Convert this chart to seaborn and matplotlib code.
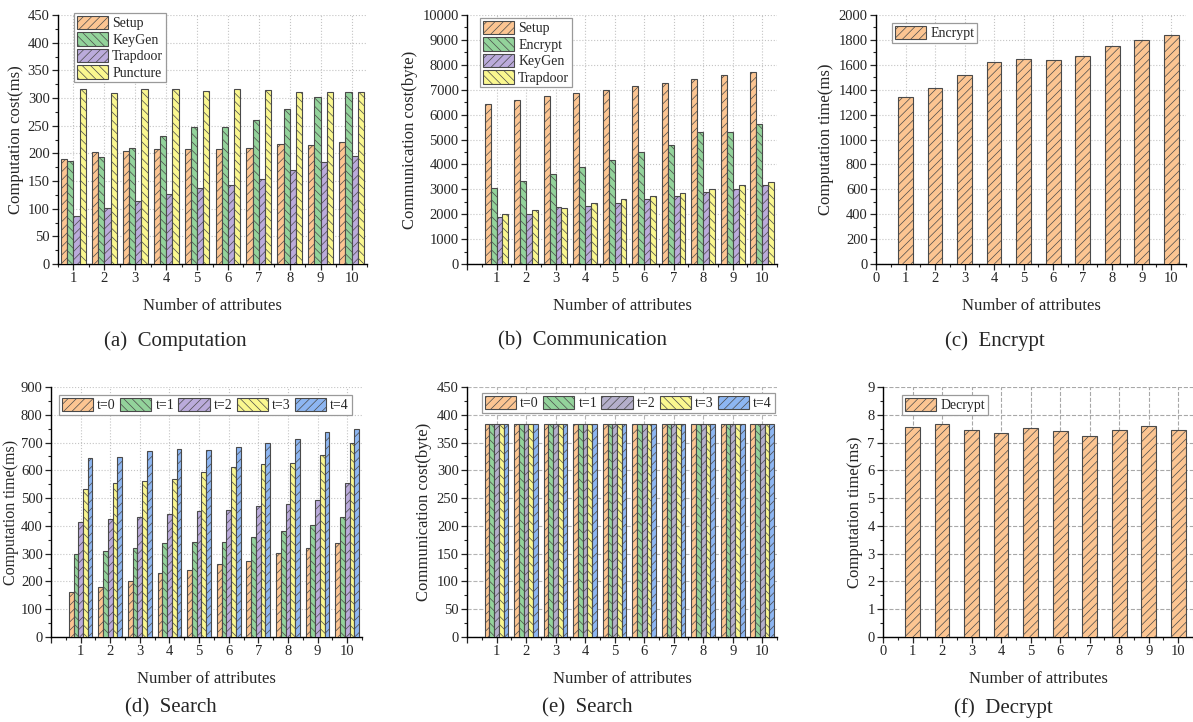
import numpy as np
import pandas as pd
import matplotlib
matplotlib.use("Agg")
import matplotlib.pyplot as plt
import seaborn as sns
from matplotlib.ticker import MultipleLocator, AutoMinorLocator

sns.set_theme(style="ticks")
plt.rcParams['font.family'] = ['Liberation Serif', 'DejaVu Serif']
plt.rcParams['hatch.linewidth'] = 0.5

attrs = list(range(1, 11))

# (a) computation cost
a_setup = [190, 203, 205, 207, 208, 207, 210, 216, 215, 221]
a_keygen = [186, 193, 210, 231, 248, 248, 261, 281, 302, 310]
a_trapdoor = [87, 101, 113, 126, 138, 142, 153, 170, 185, 196]
a_puncture = [317, 309, 316, 317, 313, 316, 314, 310, 310, 311]

# (b) communication cost
b_setup = [6440, 6570, 6730, 6870, 7000, 7150, 7280, 7430, 7580, 7730]
b_encrypt = [3040, 3330, 3600, 3880, 4170, 4480, 4760, 5320, 5320, 5610]
b_keygen = [1890, 2000, 2290, 2310, 2440, 2600, 2730, 2890, 3010, 3160]
b_trapdoor = [2000, 2160, 2250, 2440, 2600, 2730, 2870, 3010, 3160, 3290]

# (c) encrypt
c_encrypt = [1340, 1410, 1517, 1620, 1650, 1640, 1668, 1750, 1800, 1840]

# (d) search time
d_t0 = [162, 180, 203, 230, 241, 263, 274, 304, 320, 338]
d_t1 = [299, 310, 320, 338, 342, 342, 360, 382, 403, 432]
d_t2 = [413, 425, 433, 443, 452, 458, 473, 479, 493, 554]
d_t3 = [533, 556, 562, 569, 595, 612, 622, 628, 656, 698]
d_t4 = [644, 647, 670, 678, 674, 684, 700, 713, 739, 749]

# (e) search communication
e_t0 = [384] * 10
e_t1 = [384] * 10
e_t2 = [384] * 10
e_t3 = [384] * 10
e_t4 = [384] * 10

# (f) decrypt
f_decrypt = [7.56, 7.68, 7.45, 7.34, 7.52, 7.42, 7.22, 7.45, 7.60, 7.45]

ORANGE, GREEN, PURPLE, YELLOW, BLUE = '#FCC592', '#93D39B', '#BBABDB', '#FAF78F', '#8DB6F2'
EDGE = '#4a4a4a'
HATCH_F, HATCH_B = '////', '\\\\\\\\'

W, H = 1193, 722
fig = plt.figure(figsize=(W / 100, H / 100), dpi=100)


def add_ax(l, r, t, b):
    return fig.add_axes([l / W, 1 - b / H, (r - l) / W, (b - t) / H])


def grouped(ax, series, labels, colors, hatches):
    df = pd.DataFrame({
        'n': np.tile(attrs, len(series)),
        'v': np.concatenate(series),
        's': np.repeat(labels, len(attrs)),
    })
    sns.barplot(data=df, x='n', y='v', hue='s', hue_order=labels, palette=colors,
                native_scale=True, width=0.8, saturation=1, errorbar=None,
                edgecolor=EDGE, linewidth=0.8, legend=False, ax=ax, zorder=3)
    for cont, h in zip(ax.containers, hatches):
        for p in cont:
            p.set_hatch(h)


def single(ax, vals, color, hatch):
    sns.barplot(x=attrs, y=vals, native_scale=True, width=0.5, color=color,
                saturation=1, errorbar=None, edgecolor=EDGE, linewidth=0.8,
                ax=ax, zorder=3)
    for p in ax.containers[0]:
        p.set_hatch(hatch)


def style(ax, ylab, ymax, ystep, xmin, show0, grid_ls, grid_c):
    ax.set_ylim(0, ymax)
    ax.yaxis.set_major_locator(MultipleLocator(ystep))
    ax.yaxis.set_minor_locator(AutoMinorLocator(2))
    ax.set_xlim(xmin, 10.5)
    if xmin == 0:
        ax.set_xticks(range(0, 11))
        ax.set_xticklabels(['0' if show0 else ''] + [str(i) for i in attrs])
    else:
        ax.set_xticks(attrs)
        ax.set_xticklabels([str(i) for i in attrs])
    ax.xaxis.set_minor_locator(MultipleLocator(0.5))
    ax.tick_params(which='major', direction='out', length=4, width=0.9, labelsize=10.5, pad=2)
    ax.tick_params(which='minor', direction='out', length=2.5, width=0.8)
    ax.grid(True, which='major', linestyle=grid_ls, color=grid_c, linewidth=0.8, zorder=0)
    ax.set_axisbelow(True)
    sns.despine(ax=ax)
    for s in ('left', 'bottom'):
        ax.spines[s].set_color('black')
        ax.spines[s].set_linewidth(1.0)
    ax.set_ylabel(ylab, fontsize=12, labelpad=3)
    ax.set_xlabel('Number of attributes', fontsize=12, labelpad=9)


def legend(ax, labels, x, y, ncol=1):
    leg = ax.legend(ax.containers, labels, loc='upper left',
                    bbox_to_anchor=(x / W, 1 - y / H), bbox_transform=fig.transFigure,
                    ncol=ncol, fontsize=10, fancybox=False, framealpha=1,
                    edgecolor='#9a9a9a', handlelength=2.25, handleheight=1.1,
                    handletextpad=0.3, labelspacing=0.15, columnspacing=0.3,
                    borderpad=0.2, borderaxespad=0)
    leg.get_frame().set_linewidth(0.9)
    leg.set_zorder(10)


# (a)
ax = add_ax(58, 367, 15, 264)
grouped(ax, [a_setup, a_keygen, a_trapdoor, a_puncture],
        ['Setup', 'KeyGen', 'Trapdoor', 'Puncture'],
        [ORANGE, GREEN, PURPLE, YELLOW], [HATCH_F, HATCH_B, HATCH_F, HATCH_B])
style(ax, 'Computation cost(ms)', 450, 50, 0.5, False, ':', '#c4c4c4')
legend(ax, ['Setup', 'KeyGen', 'Trapdoor', 'Puncture'], 74, 13)

# (b)
ax = add_ax(467, 777, 15, 264)
grouped(ax, [b_setup, b_encrypt, b_keygen, b_trapdoor],
        ['Setup', 'Encrypt', 'KeyGen', 'Trapdoor'],
        [ORANGE, GREEN, PURPLE, YELLOW], [HATCH_F, HATCH_B, HATCH_F, HATCH_B])
style(ax, 'Communication cost(byte)', 10000, 1000, 0, False, ':', '#c4c4c4')
legend(ax, ['Setup', 'Encrypt', 'KeyGen', 'Trapdoor'], 480, 18)

# (c)
ax = add_ax(876, 1186, 15, 264)
single(ax, c_encrypt, ORANGE, HATCH_F)
style(ax, 'Computation time(ms)', 2000, 200, 0, True, ':', '#c4c4c4')
legend(ax, ['Encrypt'], 892, 23)

# (d)
ax = add_ax(51, 362, 387, 637)
grouped(ax, [d_t0, d_t1, d_t2, d_t3, d_t4],
        ['t=0', 't=1', 't=2', 't=3', 't=4'],
        [ORANGE, GREEN, PURPLE, YELLOW, BLUE],
        [HATCH_F, HATCH_B, HATCH_F, HATCH_B, HATCH_F])
style(ax, 'Computation time(ms)', 900, 100, 0, False, ':', '#c4c4c4')
ax.yaxis.label.set_fontsize(11.5)
ax.yaxis.labelpad = 1
legend(ax, ['t=0', 't=1', 't=2', 't=3', 't=4'], 59, 395, ncol=5)

# (e)
ax = add_ax(467, 777, 387, 637)
grouped(ax, [e_t0, e_t1, e_t2, e_t3, e_t4],
        ['t=0', 't=1', 't=2', 't=3', 't=4'],
        [ORANGE, GREEN, '#B4AFCB', YELLOW, BLUE],
        [HATCH_F, HATCH_B, HATCH_F, HATCH_B, HATCH_F])
style(ax, 'Communication cost(byte)', 450, 50, 0, False, '--', '#b4b4b4')
legend(ax, ['t=0', 't=1', 't=2', 't=3', 't=4'], 482, 393, ncol=5)

# (f)
ax = add_ax(883, 1193, 387, 637)
single(ax, f_decrypt, ORANGE, HATCH_F)
style(ax, 'Computation time(ms)', 9, 1, 0, True, '--', '#a8a8a8')
legend(ax, ['Decrypt'], 902, 395)

captions = [('(a)  Computation', 175, 341), ('(b)  Communication', 583, 341),
            ('(c)  Encrypt', 995, 341), ('(d)  Search', 171, 708),
            ('(e)  Search', 587, 708), ('(f)  Decrypt', 1003, 708)]
for txt, x, y in captions:
    fig.text(x / W, 1 - y / H, txt, ha='center', va='center', fontsize=15)

fig.savefig('out.png', dpi=100)
